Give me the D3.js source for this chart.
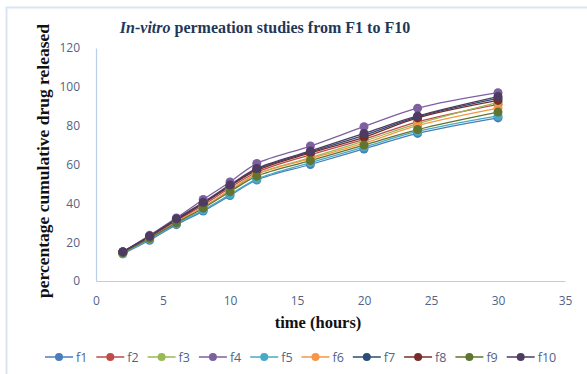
<!DOCTYPE html>
<html>
<head>
<meta charset="utf-8">
<script src="https://cdn.jsdelivr.net/npm/d3@7"></script>
<style>
  body { margin: 0; background: #fff; }
  svg { display: block; }
</style>
</head>
<body>
<script>
// time points (hours)
const times = [2, 4, 6, 8, 10, 12, 16, 20, 24, 30];

// cumulative release (%) per formulation
const f1  = [14, 21, 29, 36, 44, 52, 60, 68, 76, 84];
const f2  = [15, 22.5, 31, 39, 48, 56, 65, 73, 82, 91];
const f3  = [14.5, 22, 30, 38, 46.5, 55, 63.5, 72, 81, 92];
const f4  = [15, 23.5, 32.5, 42, 51, 60.5, 69.5, 79.5, 89, 97];
const f5  = [14, 21.5, 29.5, 36.5, 44.5, 52.5, 61, 69, 77, 85];
const f6  = [14.5, 22, 30.5, 38, 47, 55, 63, 71, 80, 89];
const f7  = [15, 23, 31.5, 40, 49, 57.5, 66.5, 75, 84.5, 94];
const f8  = [15, 23, 31.5, 40, 49, 57, 66, 74, 84, 93];
const f9  = [14.5, 22, 30, 37.5, 46, 54, 62, 70, 78, 87];
const f10 = [15, 23, 32, 40.5, 49.5, 58, 67, 76, 85, 95];

const seriesNames = ['f1', 'f2', 'f3', 'f4', 'f5', 'f6', 'f7', 'f8', 'f9', 'f10'];
const seriesValues = [f1, f2, f3, f4, f5, f6, f7, f8, f9, f10];
const colors = ['#4a7ebb', '#be4b48', '#98b954', '#7d60a0', '#46aac5',
                '#f79646', '#2c4d75', '#772c2a', '#5f7530', '#4d3b62'];

const xTicks = [0, 5, 10, 15, 20, 25, 30, 35];
const yTicks = [0, 20, 40, 60, 80, 100, 120];

const W = 587, H = 374;
const plot = {left: 96, right: 565, top: 48, bottom: 281};
const tickColor = '#4f6488';

const svg = d3.select('body').append('svg')
    .attr('width', W)
    .attr('height', H);

// chart border
svg.append('rect')
    .attr('x', 6.5).attr('y', 7.5)
    .attr('width', W + 10).attr('height', H + 10)
    .attr('fill', 'none')
    .attr('stroke', '#dbe4f2')
    .attr('stroke-width', 2);

const x = d3.scaleLinear().domain([0, 35]).range([plot.left, plot.right]);
const y = d3.scaleLinear().domain([0, 120]).range([plot.bottom, plot.top]);

// axes
const xAxis = svg.append('g')
    .attr('transform', `translate(0,${plot.bottom})`)
    .call(d3.axisBottom(x).tickValues(xTicks).tickSize(0).tickPadding(15));
const yAxis = svg.append('g')
    .attr('transform', `translate(${plot.left},0)`)
    .call(d3.axisLeft(y).tickValues(yTicks).tickSize(0).tickPadding(16));

[xAxis, yAxis].forEach(g => {
    g.select('.domain').attr('stroke', '#b9cfe9').attr('stroke-width', 1.2);
    g.selectAll('text')
        .attr('fill', tickColor)
        .style('font-family', '"Open Sans", "Liberation Sans", sans-serif')
        .style('font-size', '12px');
});

// lines and markers
const line = d3.line()
    .x((d, i) => x(times[i]))
    .y(d => y(d))
    .curve(d3.curveCatmullRom.alpha(0.5));

seriesValues.forEach((vals, k) => {
    svg.append('path')
        .datum(vals)
        .attr('d', line)
        .attr('fill', 'none')
        .attr('stroke', colors[k])
        .attr('stroke-width', 1.3);
});
seriesValues.forEach((vals, k) => {
    svg.append('g').selectAll('circle')
        .data(vals)
        .enter().append('circle')
        .attr('cx', (d, i) => x(times[i]))
        .attr('cy', d => y(d))
        .attr('r', 4.5)
        .attr('fill', colors[k]);
});

// title
const title = svg.append('text')
    .attr('x', 265).attr('y', 33)
    .attr('text-anchor', 'middle')
    .attr('fill', '#1f3759')
    .style('font-family', '"Liberation Serif", "Times New Roman", serif')
    .style('font-size', '16px')
    .style('font-weight', 'bold');
title.append('tspan').style('font-style', 'italic').text('In-vitro');
title.append('tspan').text(' permeation studies from F1 to F10');

// axis titles
svg.append('text')
    .attr('x', 318).attr('y', 328)
    .attr('text-anchor', 'middle')
    .attr('fill', '#111')
    .style('font-family', '"Liberation Serif", "Times New Roman", serif')
    .style('font-size', '16.5px')
    .style('font-weight', 'bold')
    .text('time (hours)');

svg.append('text')
    .attr('transform', 'translate(49,161) rotate(-90)')
    .attr('text-anchor', 'middle')
    .attr('fill', '#111')
    .style('font-family', '"Liberation Serif", "Times New Roman", serif')
    .style('font-size', '17.5px')
    .style('font-weight', 'bold')
    .text('percentage cumulative drug released');

// legend
const legend = svg.append('g')
    .attr('transform', 'translate(45,357)');
const item = legend.selectAll('g')
    .data(seriesNames)
    .enter().append('g')
    .attr('transform', (d, i) => `translate(${i * 51.3},0)`);
item.append('line')
    .attr('x1', 0).attr('x2', 28)
    .attr('stroke', (d, i) => colors[i])
    .attr('stroke-width', 1.5);
item.append('circle')
    .attr('cx', 14).attr('r', 4)
    .attr('fill', (d, i) => colors[i]);
item.append('text')
    .attr('x', 31).attr('y', 4.5)
    .attr('fill', tickColor)
    .style('font-family', '"Open Sans", "Liberation Sans", sans-serif')
    .style('font-size', '12.5px')
    .text(d => d);
</script>
</body>
</html>
